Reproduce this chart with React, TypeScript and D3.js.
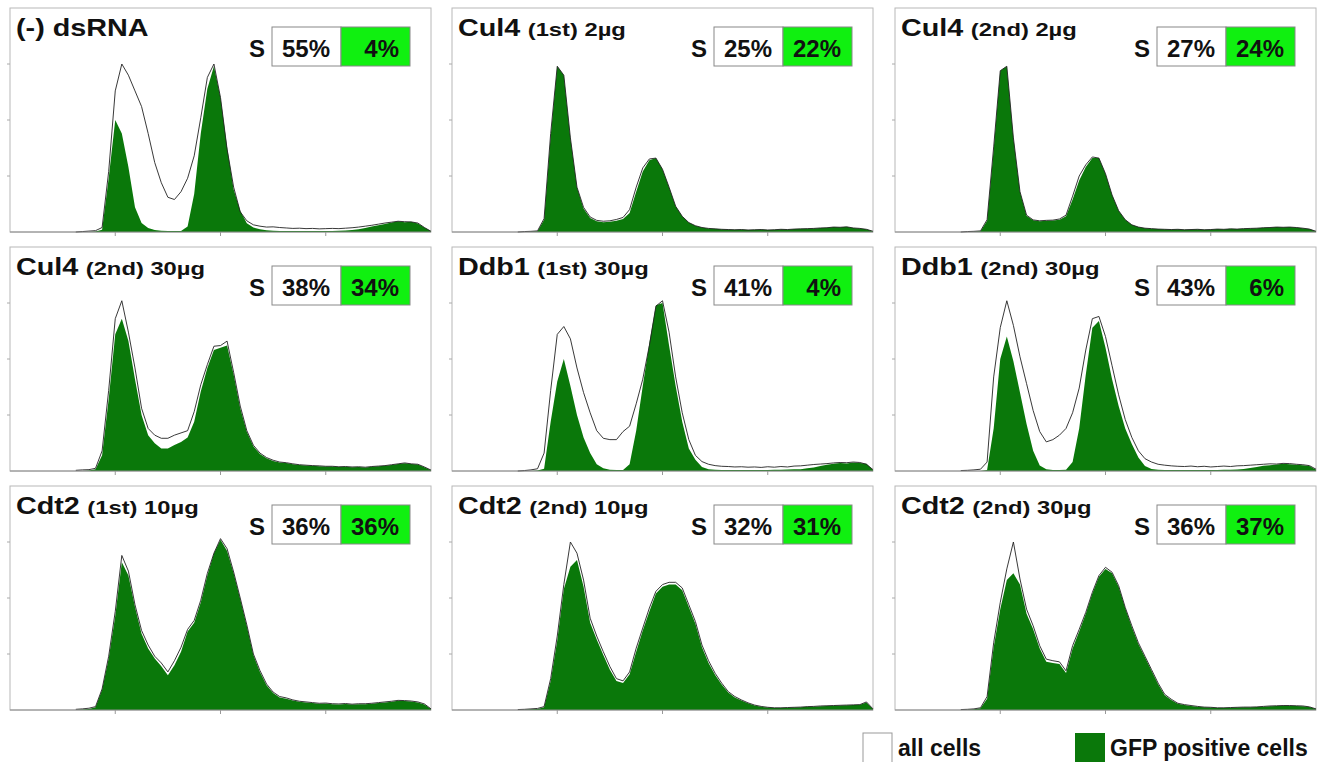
import React from "react";
import * as d3 from "d3";

// DNA content channels (bins), 0..1024 scale
const channels = d3.range(160, 1025, 16);

const xTicks = [256, 512, 768];
const yTicks = [25, 50, 75];

const titleMain = ["(-) dsRNA", "Cul4", "Cul4", "Cul4", "Ddb1", "Ddb1", "Cdt2", "Cdt2", "Cdt2"];
const titleSub = ["", "(1st) 2µg", "(2nd) 2µg", "(2nd) 30µg", "(1st) 30µg", "(2nd) 30µg", "(1st) 10µg", "(2nd) 10µg", "(2nd) 30µg"];
const sPhaseAll = [55, 25, 27, 38, 41, 43, 36, 32, 36];
const sPhaseGfp = [4, 22, 24, 34, 4, 6, 36, 31, 37];

// (-) dsRNA
const negAll = [
  0, 0.2, 0.4, 0.6, 2, 27, 63, 75, 70, 63,
  56, 44, 31, 22, 15.5, 14.5, 18, 24, 34, 51,
  69, 75, 60, 37, 20, 9, 5, 3.2, 2.6, 2.2,
  2.3, 2, 1.8, 1.6, 1.7, 1.5, 1.6, 1.4, 1.5, 1.6,
  1.5, 1.7, 1.9, 2.2, 2.6, 3, 3.5, 4, 4.4, 4.8,
  4.6, 4.5, 4, 2, 0.3,
];
const negGfp = [
  0, 0, 0, 0.2, 1, 24, 50, 44, 29, 11,
  4, 1.8, 0.9, 0.6, 0.5, 0.5, 0.4, 2.5, 17, 44,
  64, 74, 60, 38, 19, 9.5, 3.9, 2, 1.2, 0.8,
  0.6, 0.5, 0.5, 0.4, 0.5, 0.4, 0.5, 0.4, 0.5, 0.5,
  0.6, 0.7, 0.9, 1.2, 1.8, 2.4, 3, 3.6, 4.2, 4.8,
  4.4, 4.6, 3.8, 2, 0.3,
];

// Cul4 (1st) 2µg
const cul4a2All = [
  0, 0.2, 0.3, 0.5, 6, 44, 74, 70, 42, 20,
  11, 6.7, 5.2, 4.8, 5, 5.6, 6.5, 10, 20, 28.6,
  32.6, 33, 28, 20, 11.5, 7, 4.2, 2.8, 2, 1.6,
  1.4, 1.2, 1.1, 1, 1.1, 0.9, 1, 1.1, 0.9, 1,
  1.2, 1.1, 1.3, 1.4, 1.5, 1.6, 1.8, 1.9, 2.2, 2.1,
  2.3, 1.8, 1.6, 1.2, 0.3,
];
const cul4a2Gfp = [
  0, 0, 0.1, 0.3, 5.5, 43, 74, 70, 42, 20,
  10.5, 6.2, 4.8, 4.4, 4.6, 5, 5.8, 8.5, 18, 27,
  32, 33, 28, 20, 11.5, 7, 4.2, 2.8, 2, 1.6,
  1.4, 1.2, 1.1, 1, 1.1, 0.9, 1, 1.1, 0.9, 1,
  1.2, 1.1, 1.3, 1.4, 1.5, 1.6, 1.8, 1.9, 2.2, 2.1,
  2.3, 1.8, 1.6, 1.2, 0.3,
];

// Cul4 (2nd) 2µg
const cul4b2All = [
  0, 0.2, 0.3, 0.5, 5.5, 38, 72, 74, 42, 18,
  7.5, 5.4, 5, 5.2, 5.3, 5.8, 7.5, 16, 25, 30,
  33.5, 33, 26, 16.5, 9.5, 5.5, 3.2, 2.2, 1.7, 1.5,
  1.3, 1.2, 1.1, 1.2, 1, 1.1, 1.2, 1, 1.1, 1.3,
  1.2, 1.4, 1.3, 1.5, 1.6, 1.7, 1.9, 2, 2.2, 2.1,
  2.2, 2, 1.7, 1.3, 0.3,
];
const cul4b2Gfp = [
  0, 0, 0.1, 0.3, 5, 37, 72, 74, 42, 18,
  7.2, 5.2, 4.8, 5, 5.1, 5.5, 7, 14.5, 23, 29,
  33, 33, 26, 16.5, 9.5, 5.5, 3.2, 2.2, 1.7, 1.5,
  1.3, 1.2, 1.1, 1.2, 1, 1.1, 1.2, 1, 1.1, 1.3,
  1.2, 1.4, 1.3, 1.5, 1.6, 1.7, 1.9, 2, 2.2, 2.1,
  2.2, 2, 1.7, 1.3, 0.3,
];

// Cul4 (2nd) 30µg
const cul4b30All = [
  0.3, 0.5, 0.6, 1.2, 9, 36, 68, 76, 62, 46,
  28, 19, 16, 14.6, 14.6, 16, 17, 18, 26.5, 38.5,
  47.5, 55.7, 56, 58, 44, 29, 18, 11.5, 8, 6,
  4.8, 4, 3.7, 3.2, 2.8, 2.6, 2.4, 2.3, 2.1, 2.1,
  1.9, 2, 1.8, 1.9, 1.7, 2, 2.2, 2.4, 2.8, 3.2,
  3.6, 3.2, 3, 1.8, 0.4,
];
const cul4b30Gfp = [
  0, 0, 0.2, 0.8, 7, 32, 61, 68, 58, 41,
  25, 16, 12.4, 10, 10, 11.6, 13, 15, 22, 35.5,
  46, 54, 55, 56, 43, 28, 17.5, 11, 7.6, 5.7,
  4.5, 3.8, 3.6, 3, 2.7, 2.5, 2.3, 2.1, 2, 2,
  1.8, 1.9, 1.7, 1.8, 1.6, 1.9, 2.1, 2.3, 2.7, 3.1,
  3.5, 3.1, 2.9, 1.7, 0.3,
];

// Ddb1 (1st) 30µg
const ddb1a30All = [
  0, 0.2, 0.5, 1, 8, 36, 61, 64.5, 59, 46,
  35, 26, 18, 14.6, 14, 14, 17.6, 20, 30, 41,
  56, 73.6, 76, 62, 42, 26, 14, 7, 4.2, 3,
  2.4, 2.1, 2, 1.8, 1.9, 1.7, 1.8, 1.6, 1.9, 1.7,
  2, 1.8, 2.2, 2.3, 2.6, 2.9, 3.1, 3.3, 3.6, 3.8,
  3.7, 4, 3.8, 3, 0.6,
];
const ddb1a30Gfp = [
  0, 0, 0, 0.2, 1, 22, 40, 50, 38, 25,
  15, 8, 3, 1.2, 0.6, 0.5, 0.5, 3, 18, 38,
  57, 74, 75, 56, 38, 22, 10, 5, 1.8, 0.8,
  0.6, 0.5, 0.5, 0.4, 0.5, 0.5, 0.4, 0.5, 0.5, 0.6,
  0.6, 0.7, 0.8, 0.8, 1.2, 1.6, 2.2, 2.8, 3.2, 3.6,
  3.4, 3.8, 3.6, 3.2, 0.5,
];

// Ddb1 (2nd) 30µg
const ddb1b30All = [
  0.2, 0.3, 0.5, 0.8, 4, 42, 64, 76, 65, 51,
  39, 27, 17.6, 13, 14, 16, 19, 26, 37, 54,
  68, 69, 60, 47, 34, 23, 15, 9, 5.5, 4,
  3, 2.6, 2.3, 2.1, 2, 2.2, 1.9, 2.1, 1.8, 2,
  2.2, 2, 2.3, 2.4, 2.6, 2.8, 3, 3.2, 3.1, 3.4,
  3.3, 3, 2.8, 2.4, 0.8,
];
const ddb1b30Gfp = [
  0, 0, 0, 0, 0.5, 19, 50, 60, 49, 35,
  21, 9, 2.5, 0.8, 0.5, 0.5, 0.6, 4, 19, 43,
  64, 67, 55, 41, 29, 19, 12, 6, 2.2, 0.9,
  0.6, 0.5, 0.5, 0.4, 0.5, 0.4, 0.5, 0.5, 0.4, 0.5,
  0.6, 0.6, 0.7, 0.9, 1.3, 1.8, 2.3, 2.6, 2.9, 3.2,
  3, 2.8, 2.6, 2.2, 0.6,
];

// Cdt2 (1st) 10µg
const cdt2a10All = [
  0.3, 0.5, 0.8, 1.5, 9.4, 24, 44, 69, 62, 47,
  35.5, 29, 24, 21, 17, 22, 28, 36, 40, 49,
  61, 70, 76.5, 72, 61.6, 50, 38, 25, 17.6, 11.6,
  8, 6, 5.4, 4.5, 3.9, 3.6, 3.3, 3, 3.1, 2.8,
  2.7, 2.9, 2.6, 2.8, 2.8, 3, 3.3, 3.6, 3.9, 4.3,
  4.2, 4, 3.6, 2.7, 0.5,
];
const cdt2a10Gfp = [
  0, 0.2, 0.5, 1.2, 9, 23, 42, 66, 60, 46,
  34, 27.5, 23, 19.5, 15.5, 20, 26, 35, 39, 48,
  60, 70, 76, 71, 61, 49.5, 37.5, 24.5, 17, 11,
  7.6, 5.6, 5, 4.2, 3.7, 3.4, 3.1, 2.8, 2.9, 2.6,
  2.5, 2.7, 2.4, 2.6, 2.6, 2.8, 3.1, 3.4, 3.7, 4.1,
  4, 3.8, 3.4, 2.5, 0.4,
];

// Cdt2 (2nd) 10µg
const cdt2b10All = [
  0.2, 0.3, 0.5, 0.7, 1.5, 14, 33, 56, 75, 70,
  58, 41, 33, 26, 19.4, 14, 13, 17, 27.6, 36.6,
  45.5, 53, 56, 57, 57, 54.5, 47, 39.5, 29, 22,
  16.4, 12, 8.2, 6, 4.5, 3.2, 2.2, 1.6, 1.2, 1,
  1, 1.1, 1.2, 1.3, 1.5, 1.6, 1.8, 1.9, 2, 2.1,
  2.2, 2.3, 2.4, 3.6, 0.5,
];
const cdt2b10Gfp = [
  0, 0.1, 0.3, 0.5, 1.2, 13, 31, 54, 64, 67,
  55, 39, 31.5, 24.5, 18, 13, 12, 16, 26, 35.5,
  44, 52, 55, 56, 56, 53.5, 46, 38.5, 28, 21,
  15.6, 11.4, 7.8, 5.6, 4.2, 3, 2, 1.4, 1.1, 0.9,
  0.9, 1, 1.1, 1.2, 1.4, 1.5, 1.7, 1.8, 1.9, 2,
  2.1, 2.2, 2.3, 3.4, 0.4,
];

// Cdt2 (2nd) 30µg
const cdt2b30All = [
  0.2, 0.3, 0.5, 1, 6, 30, 48, 63, 75, 58.5,
  45, 37.6, 28.7, 22.7, 22, 21.5, 17.5, 28.7, 36, 43.6,
  52.5, 60, 63.7, 61.5, 55.5, 45.8, 37.6, 30, 24, 18,
  12, 7, 4.8, 3, 2.4, 2, 1.6, 1.3, 1.2, 1,
  1, 1.1, 1.2, 1.3, 1.3, 1.4, 1.6, 1.8, 1.9, 2,
  2, 1.9, 1.8, 1.4, 0.5,
];
const cdt2b30Gfp = [
  0, 0.1, 0.3, 0.8, 5, 28, 45, 58, 61, 56,
  43, 36, 27.5, 21.5, 21, 20.5, 16.5, 27.5, 35, 43,
  52, 59.5, 63, 61, 55, 45.5, 37, 29.5, 23.5, 17.5,
  11.5, 6.6, 4.5, 2.8, 2.2, 1.8, 1.5, 1.2, 1.1, 0.9,
  0.9, 1, 1.1, 1.2, 1.2, 1.3, 1.5, 1.7, 1.8, 1.9,
  1.9, 1.8, 1.7, 1.3, 0.4,
];

const allCells = [negAll, cul4a2All, cul4b2All, cul4b30All, ddb1a30All, ddb1b30All, cdt2a10All, cdt2b10All, cdt2b30All];
const gfpCells = [negGfp, cul4a2Gfp, cul4b2Gfp, cul4b30Gfp, ddb1a30Gfp, ddb1b30Gfp, cdt2a10Gfp, cdt2b10Gfp, cdt2b30Gfp];

const FONT = "'Liberation Sans', Arial, Helvetica, sans-serif";
const GREEN = "#0a780a";
const LIME = "#10f010";

const colLeft = [10, 452, 895];
const rowTop = [8, 247, 486];
const panelW = 421;
const panelH = 224;

function Panel({ idx }: { idx: number }) {
  const left = colLeft[idx % 3];
  const top = rowTop[Math.floor(idx / 3)];

  const x = d3.scaleLinear().domain([0, 1024]).range([0, panelW]);
  const y = d3.scaleLinear().domain([0, 100]).range([panelH, 0]);

  const area = d3
    .area<number>()
    .x((_, i) => x(channels[i]))
    .y0(panelH)
    .y1((d) => y(d));
  const line = d3
    .line<number>()
    .x((_, i) => x(channels[i]))
    .y((d) => y(d));

  // S-phase box
  const bx = 262;
  const by = 19;
  const cw = 69;
  const bh = 39;

  return (
    <g transform={`translate(${left},${top})`}>
      <rect x={0} y={0} width={panelW} height={panelH} fill="#fff" stroke="#b8b8b8" strokeWidth={1} />

      <path d={area(gfpCells[idx]) || ""} fill={GREEN} />
      <path d={line(allCells[idx]) || ""} fill="none" stroke="#222" strokeWidth={0.9} />

      {/* axes */}
      <line x1={0} x2={panelW} y1={panelH} y2={panelH} stroke="#8c8c8c" strokeWidth={1} />
      {xTicks.map((t) => (
        <line key={"x" + t} x1={x(t)} x2={x(t)} y1={panelH} y2={panelH + 4} stroke="#999" />
      ))}
      {yTicks.map((t) => (
        <line key={"y" + t} x1={-3} x2={0} y1={y(t)} y2={y(t)} stroke="#aaa" />
      ))}

      {/* title */}
      <g transform="translate(6,28) scale(1.25,1)">
        <text fontFamily={FONT} fontWeight="bold" fill="#111">
          <tspan fontSize={23}>{titleMain[idx]}</tspan>
          {titleSub[idx] && (
            <tspan fontSize={19} dx={6}>
              {titleSub[idx]}
            </tspan>
          )}
        </text>
      </g>

      {/* S-phase percentages */}
      <text x={bx - 7} y={by + 29.5} fontFamily={FONT} fontWeight="bold" fontSize={24} textAnchor="end" fill="#111">
        S
      </text>
      <rect x={bx} y={by} width={cw} height={bh} fill="#fff" stroke="#888" />
      <rect x={bx + cw} y={by} width={cw} height={bh} fill={LIME} stroke="#888" />
      <text x={bx + cw - 11} y={by + 29.5} fontFamily={FONT} fontWeight="bold" fontSize={24} textAnchor="end" fill="#111">
        {sPhaseAll[idx]}%
      </text>
      <text x={bx + 2 * cw - 11} y={by + 29.5} fontFamily={FONT} fontWeight="bold" fontSize={24} textAnchor="end" fill="#111">
        {sPhaseGfp[idx]}%
      </text>
    </g>
  );
}

export default function App() {
  return (
    <div style={{ position: "absolute", left: 0, top: 0, width: 1324, height: 762, background: "#fff" }}>
      <svg width={1324} height={762} style={{ display: "block" }}>
        <rect width={1324} height={762} fill="#fff" />
        {d3.range(9).map((i) => (
          <Panel key={i} idx={i} />
        ))}

        {/* legend */}
        <rect x={863} y={733} width={29} height={32} fill="#fff" stroke="#999" />
        <text x={898} y={756} fontFamily={FONT} fontWeight="bold" fontSize={23} fill="#111">
          all cells
        </text>
        <rect x={1075} y={733} width={30} height={32} fill={GREEN} />
        <text x={1110} y={756} fontFamily={FONT} fontWeight="bold" fontSize={23} fill="#111">
          GFP positive cells
        </text>
      </svg>
    </div>
  );
}
